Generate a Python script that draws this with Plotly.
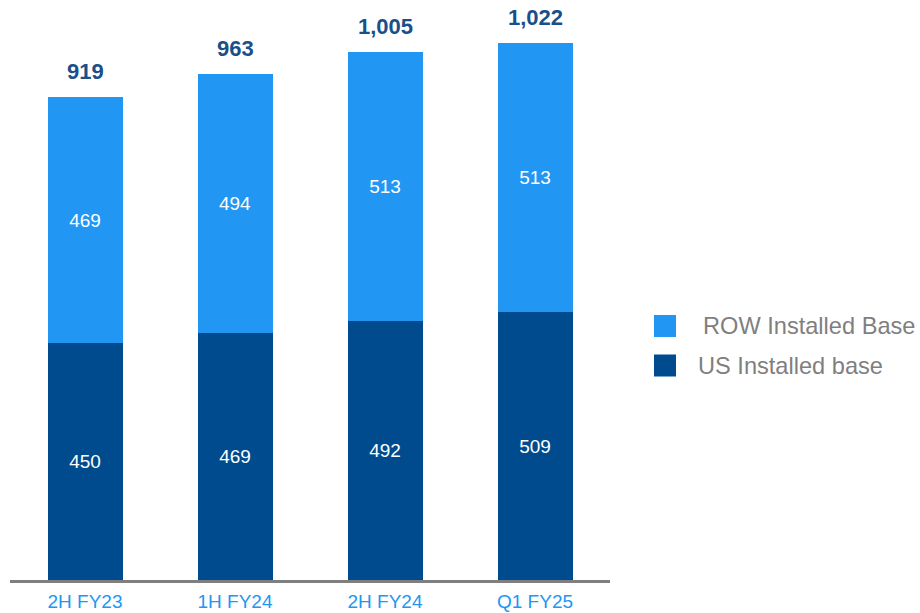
import plotly.graph_objects as go

# Installed base by period (units)
periods = ["2H FY23", "1H FY24", "2H FY24", "Q1 FY25"]
us_base = [450, 469, 492, 509]
row_base = [469, 494, 513, 513]
totals = [u + r for u, r in zip(us_base, row_base)]

US_COLOR = "#004B8D"
ROW_COLOR = "#2196F3"
FONT = "Liberation Sans, Arial, sans-serif"

fig = go.Figure()
fig.add_trace(go.Bar(
    x=periods, y=us_base, name="US Installed base",
    marker=dict(color=US_COLOR, line=dict(width=0)),
    text=[str(v) for v in us_base], textposition="inside",
    insidetextanchor="middle",
    textfont=dict(color="white", size=19, family=FONT),
))
fig.add_trace(go.Bar(
    x=periods, y=row_base, name="ROW Installed Base",
    marker=dict(color=ROW_COLOR, line=dict(width=0)),
    text=[str(v) for v in row_base], textposition="inside",
    insidetextanchor="middle",
    textfont=dict(color="white", size=19, family=FONT),
))

# Totals above each stack
for p, t in zip(periods, totals):
    fig.add_annotation(
        x=p, y=t, text=f"<b>{t:,}</b>", showarrow=False,
        yanchor="bottom", yshift=11,
        font=dict(size=22, color="#1A4F8A", family=FONT),
    )

# Legend drawn at the right of the plot
legend_items = [("ROW Installed Base", ROW_COLOR, 326, 701),
                ("US Installed base", US_COLOR, 365.5, 696)]
PLOT_L, PLOT_W, PLOT_H = 10, 600, 580
for label, color, yc, tx in legend_items:
    x0 = (654 - PLOT_L) / PLOT_W
    x1 = (676 - PLOT_L) / PLOT_W
    y0 = (PLOT_H - (yc + 11)) / PLOT_H
    y1 = (PLOT_H - (yc - 11)) / PLOT_H
    fig.add_shape(type="rect", xref="paper", yref="paper",
                  x0=x0, x1=x1, y0=y0, y1=y1,
                  fillcolor=color, line=dict(width=0))
    fig.add_annotation(
        xref="paper", yref="paper",
        x=(tx - PLOT_L) / PLOT_W, y=(PLOT_H - yc) / PLOT_H,
        text=label, showarrow=False, xanchor="left", yanchor="middle",
        font=dict(size=23.6, color="#7F7F7F", family=FONT),
    )

fig.update_layout(
    barmode="stack",
    bargap=0.5,
    width=920, height=613,
    margin=dict(l=PLOT_L, r=920 - PLOT_L - PLOT_W, t=0, b=613 - PLOT_H),
    paper_bgcolor="white", plot_bgcolor="white",
    showlegend=False,
    font=dict(family=FONT),
)
fig.update_xaxes(
    showline=True, linecolor="#7F7F7F", linewidth=3,
    showgrid=False, ticks="", ticklabelstandoff=2,
    tickfont=dict(size=19, color="#2196F3", family=FONT),
    range=[-0.5, 3.5],
)
fig.update_yaxes(visible=False, range=[0, 1103], showgrid=False)

fig.write_html("out.html")
